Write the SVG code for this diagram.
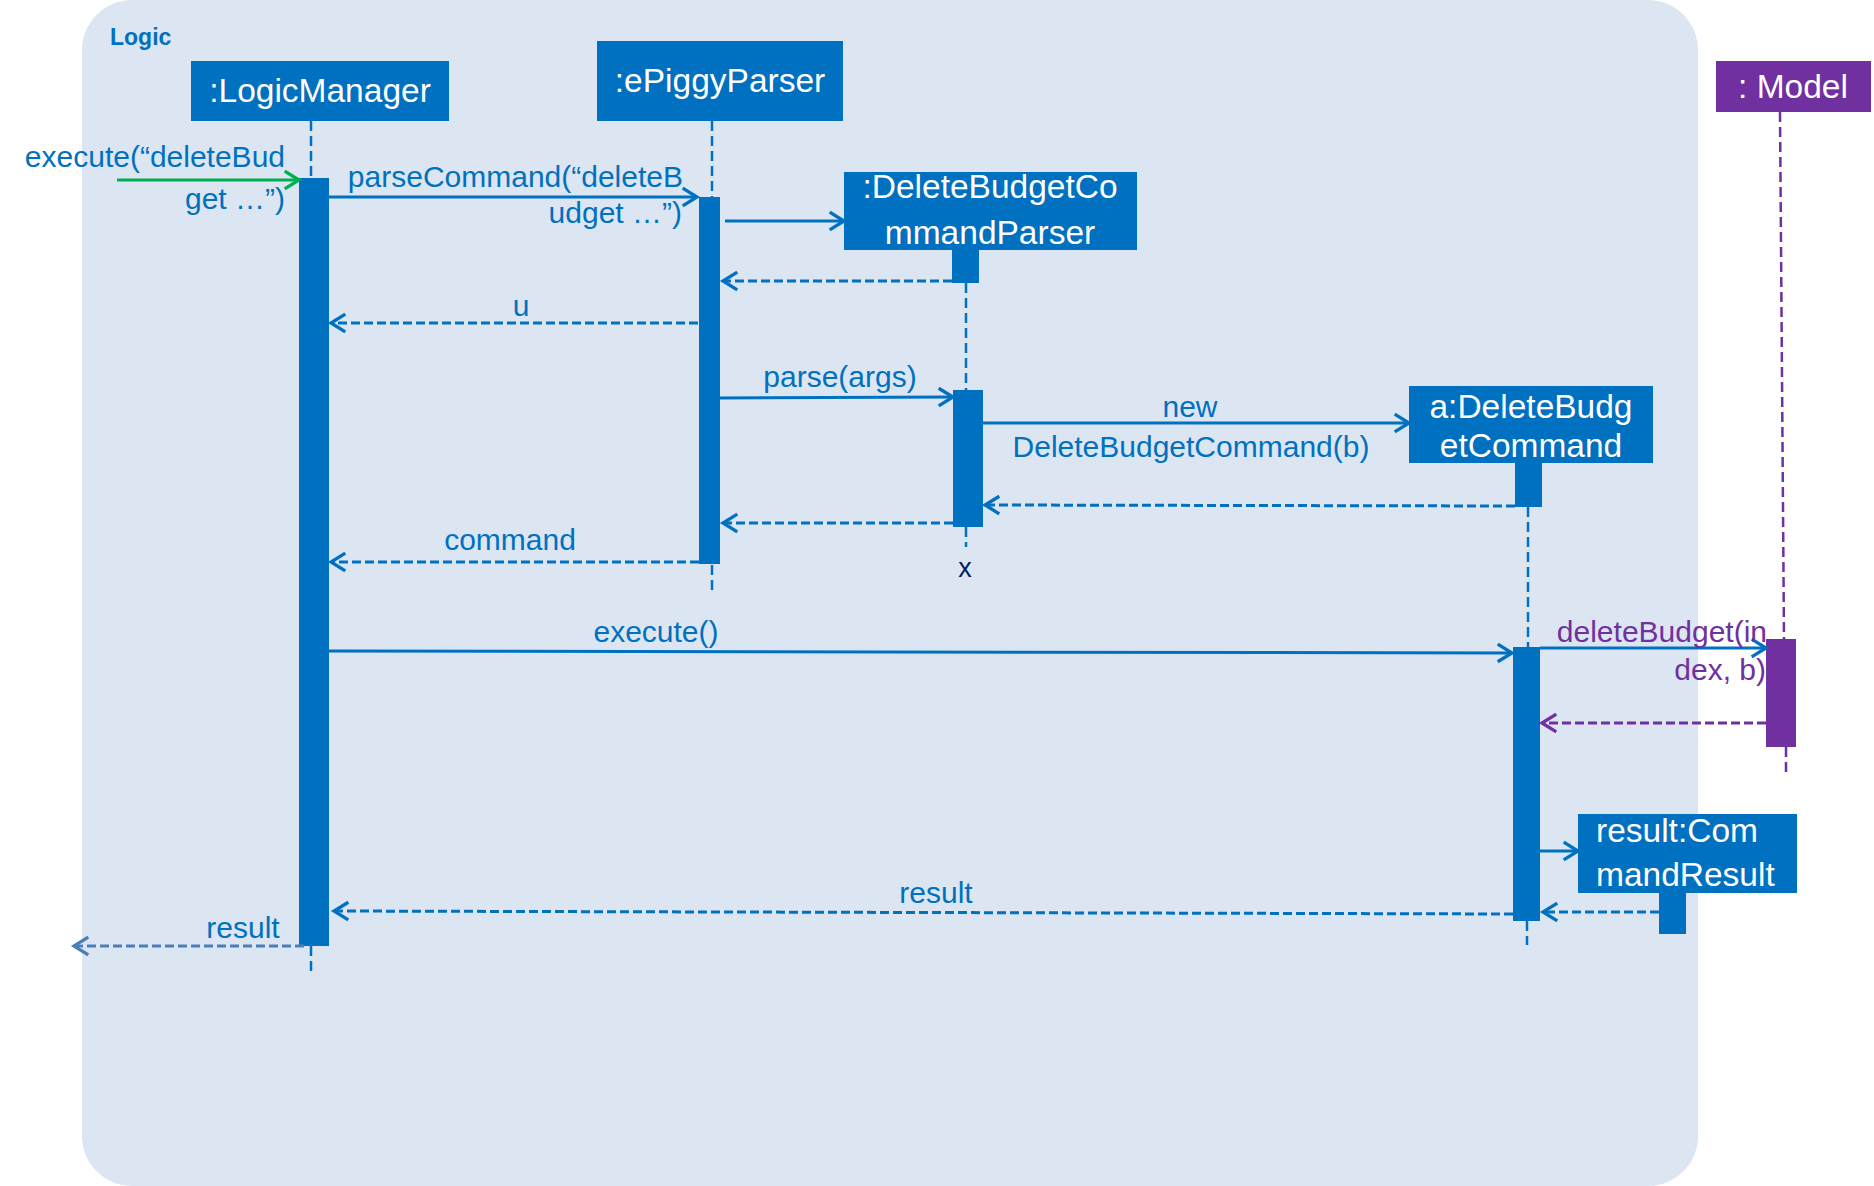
<svg xmlns="http://www.w3.org/2000/svg" width="1874" height="1186" viewBox="0 0 1874 1186">
<style>
.lbl{font-family:"Liberation Sans",Arial,sans-serif;font-size:30px;fill:#0070C0}
.plbl{font-family:"Liberation Sans",Arial,sans-serif;font-size:30px;fill:#7030A0}
.nt{font-family:"Liberation Sans",Arial,sans-serif;font-size:33.5px;fill:#FFFFFF;text-anchor:middle}
.box{fill:#0070C0}
.pbox{fill:#7030A0}
.life{stroke:#0070C0;stroke-width:2.5;stroke-dasharray:10 5;fill:none}
.plife{stroke:#7030A0;stroke-width:2.5;stroke-dasharray:10 5;fill:none}
.msg{stroke:#0070C0;stroke-width:3;fill:none;marker-end:url(#ab)}
.ret{stroke:#0070C0;stroke-width:3;stroke-dasharray:9 4;fill:none;marker-end:url(#ab)}
.pret{stroke:#7030A0;stroke-width:3;stroke-dasharray:9 4;fill:none;marker-end:url(#ap)}
</style>
<defs>
<marker id="ab" markerUnits="userSpaceOnUse" markerWidth="22" markerHeight="22" viewBox="0 0 20 20" refX="16" refY="10" orient="auto"><path d="M3,2 L16,10 L3,18" fill="none" stroke="#0070C0" stroke-width="3"/></marker>
<marker id="ap" markerUnits="userSpaceOnUse" markerWidth="22" markerHeight="22" viewBox="0 0 20 20" refX="16" refY="10" orient="auto"><path d="M3,2 L16,10 L3,18" fill="none" stroke="#7030A0" stroke-width="3"/></marker>
<marker id="ag" markerUnits="userSpaceOnUse" markerWidth="22" markerHeight="22" viewBox="0 0 20 20" refX="16" refY="10" orient="auto"><path d="M3,2 L16,10 L3,18" fill="none" stroke="#00B050" stroke-width="3"/></marker>
<marker id="al" markerUnits="userSpaceOnUse" markerWidth="22" markerHeight="22" viewBox="0 0 20 20" refX="16" refY="10" orient="auto"><path d="M3,2 L16,10 L3,18" fill="none" stroke="#4A7EBB" stroke-width="3"/></marker>
</defs>

<g id="frame">
<rect x="82" y="0" width="1616" height="1186" rx="50" ry="50" fill="#DCE6F2"/>
<text x="110" y="45" font-family="Liberation Sans,Arial,sans-serif" font-size="23" font-weight="bold" fill="#0070C0">Logic</text>
</g>

<g id="logicManager">
<line class="life" x1="311" y1="121" x2="311" y2="178"/>
<line class="life" x1="311" y1="946" x2="311" y2="972"/>
<rect class="box" x="191" y="61" width="258" height="60"/>
<text class="nt" x="320" y="102">:LogicManager</text>
<rect class="box" x="299" y="178" width="30" height="768"/>
</g>

<g id="ePiggyParser">
<line class="life" x1="712" y1="121" x2="712" y2="197"/>
<line class="life" x1="712" y1="565" x2="712" y2="592"/>
<rect class="box" x="597" y="41" width="246" height="80"/>
<text class="nt" x="720" y="92">:ePiggyParser</text>
<rect class="box" x="699" y="197" width="21" height="367"/>
</g>

<g id="deleteBudgetCommandParser">
<line class="life" x1="966" y1="283" x2="966" y2="390"/>
<line class="life" x1="966" y1="527" x2="966" y2="547"/>
<rect class="box" x="844" y="172" width="293" height="78"/>
<text class="nt" x="990" y="198">:DeleteBudgetCo</text>
<text class="nt" x="990" y="244">mmandParser</text>
<rect class="box" x="952" y="250" width="27" height="33"/>
<rect class="box" x="953" y="390" width="30" height="137"/>
<text x="965" y="577" font-family="Liberation Sans,Arial,sans-serif" font-size="27" fill="#002060" text-anchor="middle">x</text>
</g>

<g id="deleteBudgetCommand">
<line class="life" x1="1528" y1="507" x2="1528" y2="647"/>
<line class="life" x1="1527" y1="921" x2="1527" y2="945"/>
<rect class="box" x="1409" y="386" width="244" height="77"/>
<text class="nt" x="1531" y="418">a:DeleteBudg</text>
<text class="nt" x="1531" y="457">etCommand</text>
<rect class="box" x="1515" y="463" width="27" height="44"/>
<rect class="box" x="1513" y="647" width="27" height="274"/>
</g>

<g id="model">
<line class="plife" x1="1780" y1="112" x2="1784" y2="639"/>
<line class="plife" x1="1786" y1="747" x2="1786" y2="773"/>
<rect class="pbox" x="1716" y="61" width="155" height="51"/>
<text class="nt" x="1793" y="98">: Model</text>
<rect class="pbox" x="1766" y="639" width="30" height="108"/>
</g>

<g id="commandResult">
<rect class="box" x="1578" y="814" width="219" height="79"/>
<text class="nt" x="1596" y="842" style="text-anchor:start">result:Com</text>
<text class="nt" x="1596" y="886" style="text-anchor:start">mandResult</text>
<rect class="box" x="1659" y="893" width="27" height="41"/>
</g>

<g id="connectors">
<line x1="117" y1="180" x2="299" y2="180" stroke="#00B050" stroke-width="3" marker-end="url(#ag)"/>
<text class="lbl" x="285" y="167" text-anchor="end">execute(“deleteBud</text>
<text class="lbl" x="285" y="209" text-anchor="end">get …”)</text>

<line class="msg" x1="329" y1="197" x2="697" y2="197"/>
<text class="lbl" x="683" y="187" text-anchor="end">parseCommand(“deleteB</text>
<text class="lbl" x="682" y="223" text-anchor="end">udget …”)</text>

<line class="msg" x1="725" y1="221" x2="844" y2="221"/>

<line class="ret" x1="952" y1="281" x2="723" y2="281"/>

<line class="ret" x1="698" y1="323" x2="331" y2="323"/>
<text class="lbl" x="521" y="316" text-anchor="middle">u</text>

<line class="msg" x1="720" y1="398" x2="953" y2="397"/>
<text class="lbl" x="840" y="387" text-anchor="middle">parse(args)</text>

<line class="msg" x1="983" y1="423" x2="1409" y2="423"/>
<text class="lbl" x="1190" y="417" text-anchor="middle">new</text>
<text class="lbl" x="1191" y="457" text-anchor="middle">DeleteBudgetCommand(b)</text>

<line class="ret" x1="1515" y1="506" x2="985" y2="505"/>

<line class="ret" x1="953" y1="523" x2="723" y2="523"/>

<line class="ret" x1="699" y1="562" x2="331" y2="562"/>
<text class="lbl" x="510" y="550" text-anchor="middle">command</text>

<line class="msg" x1="329" y1="651" x2="1512" y2="653"/>
<text class="lbl" x="656" y="642" text-anchor="middle">execute()</text>

<line class="msg" x1="1540" y1="648" x2="1766" y2="648"/>
<text class="plbl" x="1767" y="642" text-anchor="end">deleteBudget(in</text>
<text class="plbl" x="1766" y="680" text-anchor="end">dex, b)</text>

<line class="pret" x1="1766" y1="723" x2="1542" y2="723"/>

<line class="msg" x1="1540" y1="851" x2="1578" y2="851"/>

<line class="ret" x1="1659" y1="912" x2="1543" y2="912"/>

<line class="ret" x1="1513" y1="914" x2="334" y2="911"/>
<text class="lbl" x="936" y="903" text-anchor="middle">result</text>

<line x1="304" y1="946" x2="74" y2="946" stroke="#4A7EBB" stroke-width="3" stroke-dasharray="9 4" marker-end="url(#al)"/>
<text class="lbl" x="243" y="938" text-anchor="middle">result</text>
</g>
</svg>
